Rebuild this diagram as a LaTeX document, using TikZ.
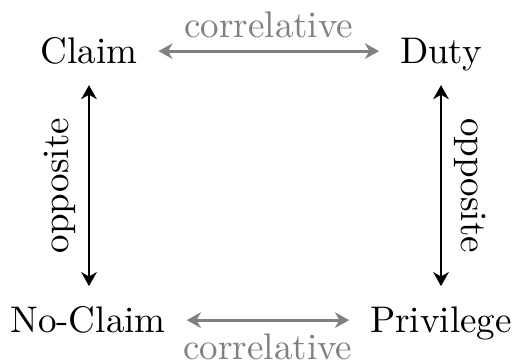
\documentclass[tikz,border=0pt]{standalone}
\usetikzlibrary{arrows.meta}
\begin{document}
\begin{tikzpicture}[x=0.27pt,y=-0.27pt,
  term/.style={inner sep=5.5pt, text height=6.94pt, text depth=0pt, anchor=base},
  tip/.style={{Stealth[length=3.8pt,width=4.2pt,inset=1.2pt]}-{Stealth[length=3.8pt,width=4.2pt,inset=1.2pt]}},
  corr/.style={tip, draw=black!50, line width=0.8pt},
  opp/.style={tip, draw=black, line width=0.8pt},
  lab/.style={text=black!50, inner sep=3.3pt}]
\useasboundingbox (0,0) rectangle (516,364);
\node[term] (claim) at (89,64) {Claim};
\node[term] (duty) at (441,64) {Duty};
\node[term] (noclaim) at (88,333) {No-Claim};
\node[term] (priv) at (441,333) {Privilege};
\draw[corr] (claim) -- node[lab, above] {correlative} (duty);
\draw[corr] (noclaim) -- node[lab, below] {correlative} (priv);
\draw[opp] (claim.south) -- node[rotate=90, anchor=south, inner sep=3.3pt] {opposite} (claim.south |- noclaim.north);
\draw[opp] (duty.south) -- node[rotate=-90, anchor=south, inner sep=3.3pt] {opposite} (duty.south |- priv.north);
\end{tikzpicture}
\end{document}
